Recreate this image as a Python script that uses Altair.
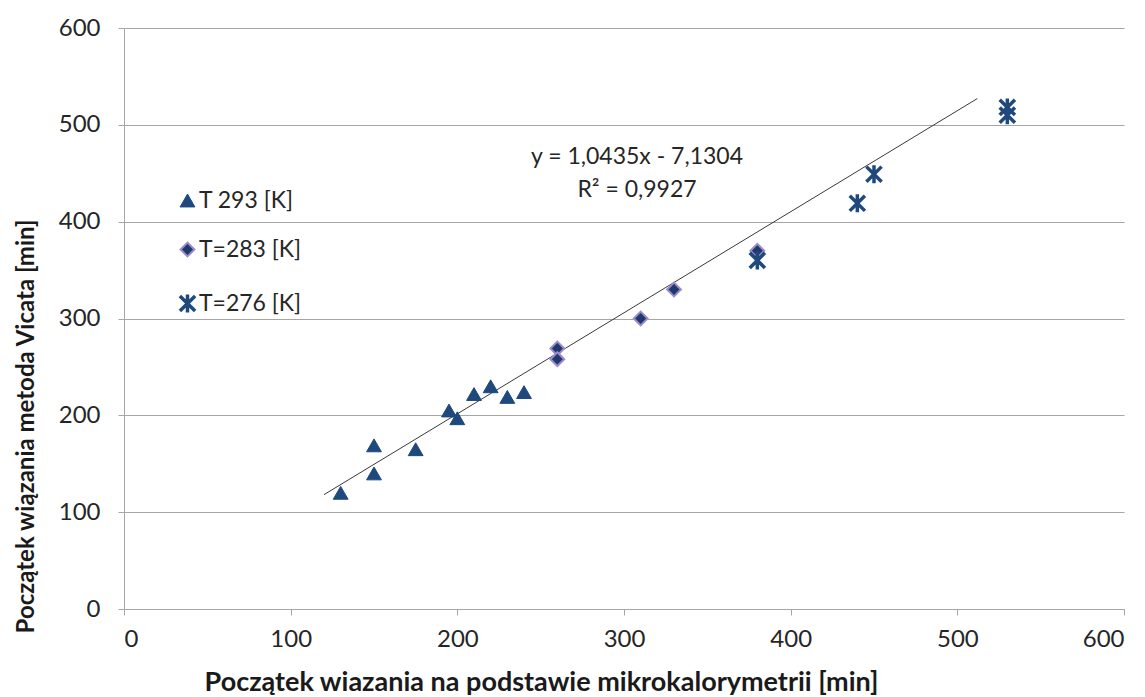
import altair as alt
import pandas as pd

# Measured setting times [min]: microcalorimetry (x) vs. Vicat needle (y)
t293_x = [130, 150, 150, 175, 195, 200, 210, 220, 230, 240]
t293_y = [120, 169, 140, 165, 205, 197, 222, 230, 219, 224]
t283_x = [260, 260, 310, 330, 380]
t283_y = [269, 258, 300, 330, 370]
t276_x = [380, 440, 450, 530, 530]
t276_y = [360, 419, 449, 518, 510]

series_names = ["T 293 [K]", "T=283 [K]", "T=276 [K]"]

# Linear trend fitted over all series
slope = 1.0435
intercept = -7.1304
r_squared = 0.9927
trend_x = [120, 512]

axis_ticks = [0, 100, 200, 300, 400, 500, 600]

rows = []
for name, xs, ys in zip(series_names, [t293_x, t283_x, t276_x], [t293_y, t283_y, t276_y]):
    for xv, yv in zip(xs, ys):
        rows.append({"x": xv, "y": yv, "series": name})
points = pd.DataFrame(rows)

trend = pd.DataFrame({"x": trend_x, "y": [slope * v + intercept for v in trend_x]})

eq_line = f"y = {slope:.4f}x - {abs(intercept):.4f}".replace(".", ",")
r2_line = f"R² = {r_squared:.4f}".replace(".", ",")

# asterisk marker: an X crossed by a vertical stroke
ASTERISK = "M-0.8,-0.8L0.8,0.8M-0.8,0.8L0.8,-0.8M0,-0.95L0,0.95"

FONT = "Lato"
GRID = "#A6A6A6"
TEXT = "#262626"

x_enc = alt.X(
    "x:Q",
    scale=alt.Scale(domain=[0, 600], nice=False, zero=False),
    axis=alt.Axis(
        values=axis_ticks, grid=False, tickSize=6, labelPadding=12,
        title="Początek wiazania na podstawie mikrokalorymetrii [min]",
        titleX=417, titleY=81, titleBaseline="alphabetic", titleAlign="center",
        titleFontSize=27,
    ),
)
y_enc = alt.Y(
    "y:Q",
    scale=alt.Scale(domain=[0, 600], nice=False, zero=False),
    axis=alt.Axis(
        values=axis_ticks, grid=True, tickSize=6, labelPadding=18,
        title="Początek wiązania metoda Vicata [min]",
        titleX=-91, titleY=398, titleAngle=270, titleAlign="center",
        titleBaseline="alphabetic", titleFontSize=24,
    ),
)

legend = alt.Legend(
    title=None, orient="none", legendX=52, legendY=161, padding=0,
    labelFontSize=23, labelFont=FONT, labelColor=TEXT,
    rowPadding=25, labelOffset=0, symbolSize=170, symbolStrokeWidth=2.2,
)

line = alt.Chart(trend).mark_line(color="#3A3A3A", strokeWidth=1).encode(x=x_enc, y=y_enc)

pts = alt.Chart(points).mark_point(opacity=1, filled=True).encode(
    x=x_enc,
    y=y_enc,
    shape=alt.Shape("series:N", scale=alt.Scale(domain=series_names,
                    range=["triangle-up", "diamond", ASTERISK]), legend=legend),
    color=alt.Color("series:N", scale=alt.Scale(domain=series_names,
                    range=["#1F497D", "#1E3A6A", "#1F497D"]), legend=legend),
    stroke=alt.Stroke("series:N", scale=alt.Scale(domain=series_names,
                      range=["#1F497D", "#9C89CE", "#1F497D"]), legend=legend),
    strokeWidth=alt.StrokeWidth("series:N", scale=alt.Scale(type="ordinal", domain=series_names,
                                range=[1, 2, 3.5]), legend=None),
    size=alt.Size("series:N", scale=alt.Scale(type="ordinal", domain=series_names,
                  range=[220, 190, 361]), legend=None),
)

equation = alt.Chart(pd.DataFrame({"k": [0]})).mark_text(
    text=[eq_line, r2_line], align="center", baseline="top",
    font=FONT, fontSize=23, color=TEXT, lineHeight=33,
).encode(x=alt.value(513), y=alt.value(118))

chart = alt.layer(line, pts, equation).properties(
    width=1000, height=581,
    autosize=alt.AutoSizeParams(type="none"),
    padding={"left": 124, "top": 28, "right": 21, "bottom": 88},
).configure_view(stroke=None).configure_axis(
    labelFont=FONT, labelFontSize=24, labelColor=TEXT,
    titleFont=FONT, titleFontWeight="bold", titleColor="#1A1A1A",
    domainColor=GRID, tickColor=GRID, gridColor=GRID, gridWidth=1,
    domainWidth=1, tickWidth=1,
)

chart.save("out.html", embed_options={"renderer": "svg", "actions": False})
